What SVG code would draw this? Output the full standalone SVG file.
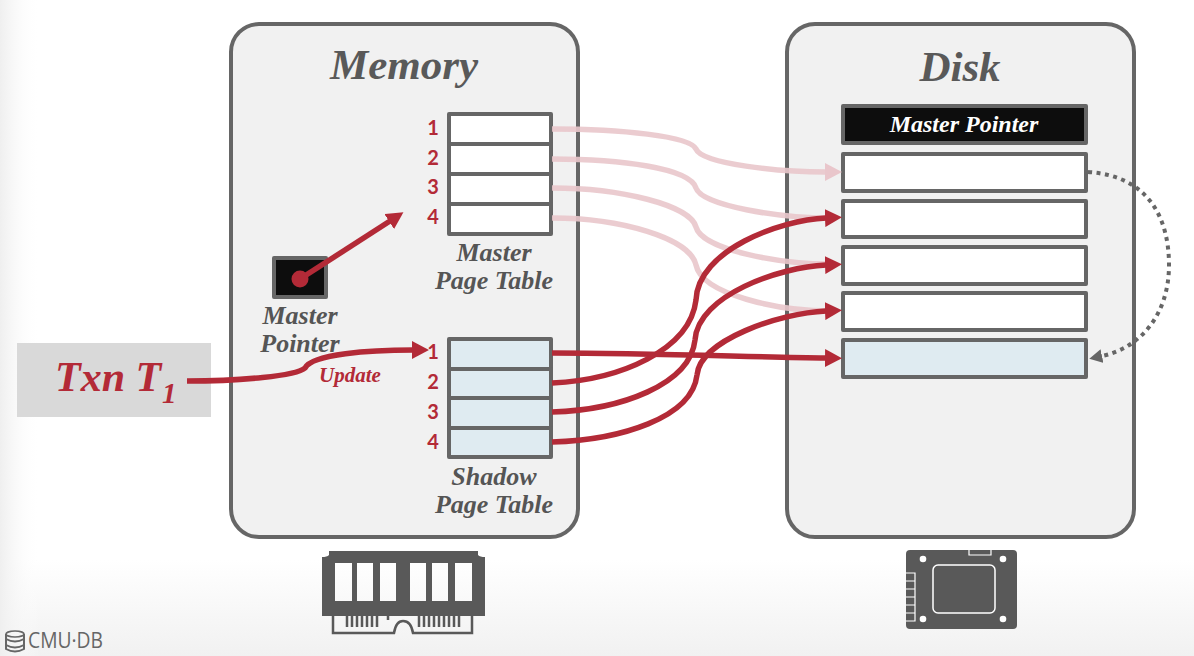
<svg xmlns="http://www.w3.org/2000/svg" width="1194" height="656" viewBox="0 0 1194 656">
  <style>
    .panel { fill: #f1f1f1; stroke: #666; stroke-width: 4; }
    .cell { stroke: #666; stroke-width: 4; stroke-linejoin: round; }
    .white { fill: #fff; }
    .blue { fill: #dfebf1; }
    .black { fill: #0d0d0d; stroke: #666; stroke-width: 4; stroke-linejoin: round; }
    .serif { font-family: "Liberation Serif", "DejaVu Serif", serif; font-weight: bold; font-style: italic; }
    .caption { fill: #555; font-size: 26px; text-anchor: middle; }
    .num { fill: #b32a37; font-family: "Lato", "Open Sans", sans-serif; font-weight: bold; font-size: 20px; text-anchor: middle; }
    .live { fill: none; stroke: #b32a37; stroke-width: 5.5; }
    .faded { fill: none; stroke: #e9c6cb; stroke-width: 5.5; opacity: 0.9; }
    .icon { fill: #595959; }
  </style>
  <defs>
    <linearGradient id="floor" x1="0" y1="0" x2="0" y2="1">
      <stop offset="0" stop-color="#fff"/>
      <stop offset="1" stop-color="#f1f1f1"/>
    </linearGradient>
    <linearGradient id="edge" x1="0" y1="0" x2="1" y2="0">
      <stop offset="0" stop-color="#efefef"/>
      <stop offset="1" stop-color="#fff" stop-opacity="0"/>
    </linearGradient>
    <marker id="redHead" markerUnits="userSpaceOnUse" markerWidth="18" markerHeight="18" refX="1" refY="9" orient="auto">
      <path d="M0 0L17 9L0 18Z" fill="#b32a37"/>
    </marker>
    <marker id="paleHead" markerUnits="userSpaceOnUse" markerWidth="18" markerHeight="18" refX="1" refY="9" orient="auto">
      <path d="M0 0L17 9L0 18Z" fill="#e9c6cb"/>
    </marker>
    <marker id="grayHead" markerUnits="userSpaceOnUse" markerWidth="14" markerHeight="14" refX="0" refY="7" orient="auto">
      <path d="M0 0L13 7L0 14Z" fill="#666"/>
    </marker>
  </defs>

  <!-- backdrop -->
  <rect width="1194" height="656" fill="#fff"/>
  <rect y="560" width="1194" height="96" fill="url(#floor)"/>
  <rect width="40" height="656" fill="url(#edge)"/>

  <g id="memory">
    <rect class="panel" x="231" y="24" width="347" height="513" rx="28"/>
    <text class="serif" x="404" y="79" font-size="43" fill="#595959" text-anchor="middle">Memory</text>
  </g>
  <g id="disk">
    <rect class="panel" x="787" y="24" width="347" height="513" rx="28"/>
    <text class="serif" x="960" y="81" font-size="43" fill="#595959" text-anchor="middle">Disk</text>
  </g>

  <g id="txn">
    <rect x="17" y="343" width="194" height="74" fill="#d9d9d9"/>
    <text class="serif" x="55" y="391" font-size="42" fill="#b32a37">Txn T</text>
    <text class="serif" x="162" y="403" font-size="29" fill="#b32a37">1</text>
  </g>

  <g id="master-page-table">
    <rect class="cell white" x="449" y="114" width="102" height="30"/>
    <rect class="cell white" x="449" y="144" width="102" height="30"/>
    <rect class="cell white" x="449" y="174" width="102" height="30"/>
    <rect class="cell white" x="449" y="204" width="102" height="30"/>
    <text class="num" x="433" y="135">1</text>
    <text class="num" x="433" y="165">2</text>
    <text class="num" x="433" y="194">3</text>
    <text class="num" x="433" y="224">4</text>
    <text class="serif caption" x="494" y="261">Master</text>
    <text class="serif caption" x="494" y="289">Page Table</text>
  </g>

  <g id="shadow-page-table">
    <rect class="cell blue" x="449" y="339" width="102" height="30"/>
    <rect class="cell blue" x="449" y="369" width="102" height="29"/>
    <rect class="cell blue" x="449" y="398" width="102" height="30"/>
    <rect class="cell blue" x="449" y="428" width="102" height="29"/>
    <text class="num" x="433" y="359">1</text>
    <text class="num" x="433" y="389">2</text>
    <text class="num" x="433" y="419">3</text>
    <text class="num" x="433" y="449">4</text>
    <text class="serif caption" x="494" y="485">Shadow</text>
    <text class="serif caption" x="494" y="513">Page Table</text>
  </g>

  <g id="master-pointer-memory">
    <rect class="black" x="274" y="258" width="52" height="39"/>
    <text class="serif caption" x="300" y="324">Master</text>
    <text class="serif caption" x="300" y="352">Pointer</text>
  </g>

  <g id="disk-master-pointer">
    <rect class="black" x="843" y="106" width="243" height="37"/>
    <text class="serif" x="964" y="132" font-size="24" fill="#fff" text-anchor="middle">Master Pointer</text>
  </g>

  <g id="disk-pages">
    <rect class="cell white" x="843" y="154" width="243" height="37"/>
    <rect class="cell white" x="843" y="201" width="243" height="36"/>
    <rect class="cell white" x="843" y="247" width="243" height="37"/>
    <rect class="cell white" x="843" y="293" width="243" height="37"/>
    <rect class="cell blue" x="843" y="340" width="243" height="37"/>
  </g>

  <g id="connectors">
    <path class="faded" d="M552 129C620 129 690 136 696 149C702 164 780 172 826 172"/>
    <path d="M825 163L842 172L825 181Z" fill="#e9c6cb"/>
    <path class="faded" d="M552 159C620 159 690 168 696 188C702 206 780 218 830 218"/>
    <path class="faded" d="M552 188C620 188 690 205 696 227C702 250 780 264 830 264"/>
    <path class="faded" d="M552 218C620 218 690 238 696 265C702 295 780 311 830 311"/>
    <path class="live" d="M552 383C620 380 690 350 696 300C698 250 780 220 826 218" marker-end="url(#redHead)"/>
    <path class="live" d="M552 412C620 410 690 385 695 340C698 295 780 267 826 265" marker-end="url(#redHead)"/>
    <path class="live" d="M552 442C620 440 692 418 697 375C700 340 780 313 826 311" marker-end="url(#redHead)"/>
    <path class="live" d="M552 353C650 353 750 357 826 358" marker-end="url(#redHead)"/>
    <path class="live" d="M187 381C240 381 296 376 305 368C312 354 370 350 413 350" marker-end="url(#redHead)"/>
    <path class="live" d="M300 279L390 221" marker-end="url(#redHead)"/>
    <circle cx="300" cy="279" r="8.5" fill="#b32a37"/>
    <path d="M1088 172C1150 176 1169 220 1169 265C1169 315 1140 348 1102 356" fill="none" stroke="#666" stroke-width="4" stroke-dasharray="4 4.5" marker-end="url(#grayHead)"/>
  </g>

  <text class="serif" x="350" y="382" font-size="21" fill="#b32a37" text-anchor="middle">Update</text>

  <g id="memory-icon">
    <path class="icon" fill-rule="evenodd" d="M329 551H478V555Q480 557 485 557V616H322V557Q327 557 329 555ZM335 563V601H352V563ZM357 563V601H373V563ZM380 563V601H396V563ZM410 563V601H426V563ZM432 563V601H448V563ZM455 563V601H472V563Z"/>
    <path d="M333 616V633H394Q396 621 403 621Q411 621 413 633H472V616" fill="none" stroke="#595959" stroke-width="2.5"/>
    <path d="M347 616V627M352 616V627M357 616V627M362 616V627M367 616V627M372 616V627M377 616V627M388 616V620M419 616V627M424 616V627M429 616V627M434 616V627M439 616V627M444 616V627M449 616V627M454 616V627M459 616V627" stroke="#595959" stroke-width="2.5"/>
  </g>

  <g id="disk-icon">
    <rect class="icon" x="906" y="550" width="111" height="79" rx="4"/>
    <path d="M969 550V555H991V550" fill="#595959" stroke="#fff" stroke-width="1.2"/>
    <rect x="933" y="565" width="62" height="48" rx="5" fill="none" stroke="#fff" stroke-width="1.5"/>
    <path d="M906 573H915V621H906M906 581H915M906 589H915M906 597H915M906 605H915M906 613H915" fill="none" stroke="#fff" stroke-width="1.2"/>
    <circle cx="923" cy="559" r="3.3" fill="#fff"/>
    <circle cx="1003" cy="559" r="3.3" fill="#fff"/>
    <circle cx="923" cy="619" r="3.3" fill="#fff"/>
    <circle cx="1003" cy="619" r="3.3" fill="#fff"/>
  </g>

  <g id="logo">
    <ellipse cx="15" cy="634" rx="9" ry="3" fill="none" stroke="#666" stroke-width="1.6"/>
    <path d="M6 639Q15 644 24 639M6 645Q15 650 24 645M6 634V649Q15 654 24 649V634" fill="none" stroke="#666" stroke-width="2"/>
    <text x="28" y="648" font-family="'Open Sans', 'Liberation Sans', sans-serif" font-size="22" fill="#666" textLength="75" lengthAdjust="spacingAndGlyphs">CMU·DB</text>
  </g>
</svg>
